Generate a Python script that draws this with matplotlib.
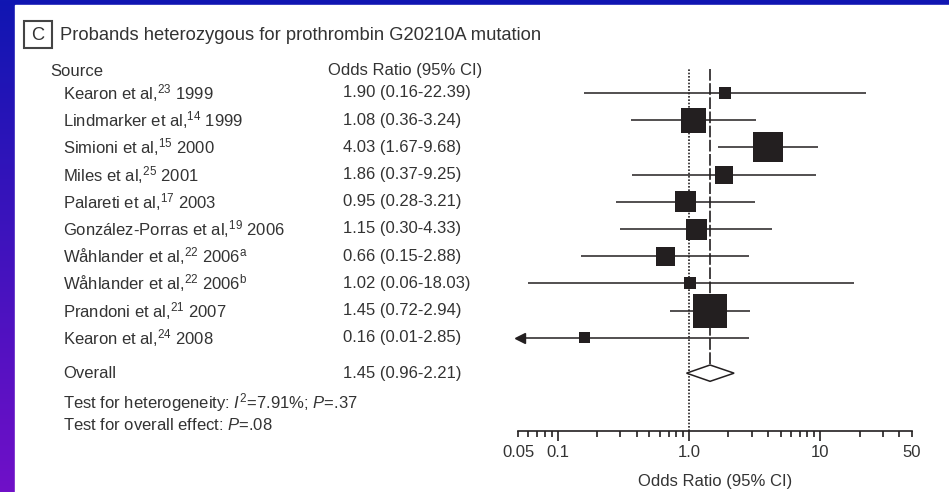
import matplotlib
matplotlib.use("Agg")
import matplotlib.pyplot as plt
import matplotlib.transforms as mtransforms
from matplotlib.patches import Rectangle, Polygon
import numpy as np

plt.rcParams['font.family'] = ['Liberation Sans', 'DejaVu Sans']
plt.rcParams['mathtext.fontset'] = 'custom'
plt.rcParams['mathtext.rm'] = 'Liberation Sans'
plt.rcParams['mathtext.it'] = 'Liberation Sans:italic'
plt.rcParams['mathtext.bf'] = 'Liberation Sans:bold'

# data
studies = ["Kearon et al,$^{23}$ 1999",
           "Lindmarker et al,$^{14}$ 1999",
           "Simioni et al,$^{15}$ 2000",
           "Miles et al,$^{25}$ 2001",
           "Palareti et al,$^{17}$ 2003",
           "González-Porras et al,$^{19}$ 2006",
           "Wåhlander et al,$^{22}$ 2006$^{\\mathrm{a}}$",
           "Wåhlander et al,$^{22}$ 2006$^{\\mathrm{b}}$",
           "Prandoni et al,$^{21}$ 2007",
           "Kearon et al,$^{24}$ 2008"]
odds = [1.90, 1.08, 4.03, 1.86, 0.95, 1.15, 0.66, 1.02, 1.45, 0.16]
lower = [0.16, 0.36, 1.67, 0.37, 0.28, 0.30, 0.15, 0.06, 0.72, 0.01]
upper = [22.39, 3.24, 9.68, 9.25, 3.21, 4.33, 2.88, 18.03, 2.94, 2.85]
weights = [12, 25, 30, 18, 21, 21, 19, 12, 34, 11]  # relative box size

overall_or = 1.45
overall_lo = 0.96
overall_hi = 2.21

tick_vals = [0.05, 0.1, 1, 10, 50]
tick_labels = ["0.05", "0.1", "1.0", "10", "50"]

W, H = 949, 492
ink = '#231f20'
txt = '#333333'
fs = 12

fig = plt.figure(figsize=(W / 100, H / 100), dpi=100)

# blue / purple frame
bg = fig.add_axes([0, 0, 1, 1], zorder=-10)
grad = np.linspace(0, 1, 256).reshape(-1, 1)
cmap = matplotlib.colors.LinearSegmentedColormap.from_list('bg', ['#1016b2', '#7010c8'])
bg.imshow(grad, cmap=cmap, aspect='auto', extent=[0, 1, 0, 1])
bg.add_patch(Rectangle((15 / W, 0), 1, 1 - 5 / H, color='white'))
bg.set_xlim(0, 1)
bg.set_ylim(0, 1)
bg.axis('off')


def fx(px):
    return px / W


def fy(py):
    return 1 - py / H


row_gap = 27.2
top_px, bot_px, row0_px = 69, 431, 93
ax = fig.add_axes([fx(518), fy(bot_px), fx(912) - fx(518), (bot_px - top_px) / H])
ax.set_xscale('log')
ax.set_xlim(0.05, 50)
ylo = (top_px - row0_px) / row_gap
ax.set_ylim(ylo + (bot_px - top_px) / row_gap, ylo)
ax.patch.set_alpha(0)

y = np.arange(len(studies))
overall_y = len(studies) + 0.3
xmin = ax.get_xlim()[0]

# reference lines
ax.axvline(1, color=ink, lw=1.2, ls=(0, (1, 1)))
ax.vlines(overall_or, ylo, overall_y - 0.3, color=ink, lw=1.2, ls=(0, (7, 1.5)))

# CIs and boxes
for yi, lo, hi in zip(y, lower, upper):
    ax.plot([max(lo, xmin), hi], [yi, yi], color=ink, lw=1.1, solid_capstyle='butt')
    if lo < xmin:
        ax.plot([xmin * 1.03], [yi], marker='<', ms=7, color=ink, clip_on=False)
ax.scatter(odds, y, marker='s', s=(np.array(weights) * 0.72) ** 2, color=ink, zorder=3, linewidths=0)

# overall diamond
ax.add_patch(Polygon([(overall_lo, overall_y), (overall_or, overall_y - 0.3),
                      (overall_hi, overall_y), (overall_or, overall_y + 0.3)],
                     closed=True, facecolor='white', edgecolor=ink, lw=1.1, zorder=4))

for s in ['top', 'right', 'left']:
    ax.spines[s].set_visible(False)
ax.spines['bottom'].set_color(ink)
ax.spines['bottom'].set_linewidth(1.2)
ax.set_yticks([])

major = [v for v in tick_vals if v in (0.1, 1, 10)]
ax.set_xticks(major, [l for v, l in zip(tick_vals, tick_labels) if v in major])
minor = [k * 10.0 ** e for e in (-2, -1, 0, 1) for k in range(2, 10) if 0.05 <= k * 10.0 ** e <= 50]
minor_labels = [tick_labels[tick_vals.index(m)] if m in (0.05, 50) else '' for m in minor]
ax.set_xticks(minor, minor_labels, minor=True)
ax.tick_params(axis='x', which='major', length=7, width=1.2, color=ink, labelsize=fs, labelcolor=txt, pad=3)
ax.tick_params(axis='x', which='minor', length=4, width=1.2, color=ink, labelsize=fs, labelcolor=txt, pad=6)
ax.set_xlabel('Odds Ratio (95% CI)', fontsize=fs, color=txt, labelpad=10)

# text columns
tr = mtransforms.blended_transform_factory(fig.transFigure, ax.transData)
for yi, name, o, lo, hi in zip(y, studies, odds, lower, upper):
    ax.text(fx(63), yi, name, transform=tr, fontsize=fs, color=txt, va='center')
    ax.text(fx(343), yi, f"{o:.2f} ({lo:.2f}-{hi:.2f})", transform=tr, fontsize=fs, color=txt, va='center')
ax.text(fx(63), overall_y, "Overall", transform=tr, fontsize=fs, color=txt, va='center')
ax.text(fx(343), overall_y, f"{overall_or:.2f} ({overall_lo:.2f}-{overall_hi:.2f})",
        transform=tr, fontsize=fs, color=txt, va='center')

fig.text(fx(50), fy(71), "Source", fontsize=fs, color=txt, va='center')
fig.text(fx(328), fy(71), "Odds Ratio (95% CI)", fontsize=fs, color=txt, va='center')
fig.text(fx(63), fy(403), "Test for heterogeneity: $I^2$=7.91%; $P$=.37", fontsize=fs, color=txt, va='center')
fig.text(fx(63), fy(425), "Test for overall effect: $P$=.08", fontsize=fs, color=txt, va='center')

# panel header
fig.add_artist(Rectangle((fx(24), fy(48)), fx(52) - fx(24), (48 - 21) / H,
                         transform=fig.transFigure, fill=False, edgecolor='#444444', lw=1.5))
fig.text(fx(38), fy(35), "C", fontsize=fs + 1.2, color=txt, ha='center', va='center')
fig.text(fx(60), fy(35), "Probands heterozygous for prothrombin G20210A mutation",
         fontsize=fs + 1.2, color=txt, va='center')

fig.savefig('out.png', dpi=100)
